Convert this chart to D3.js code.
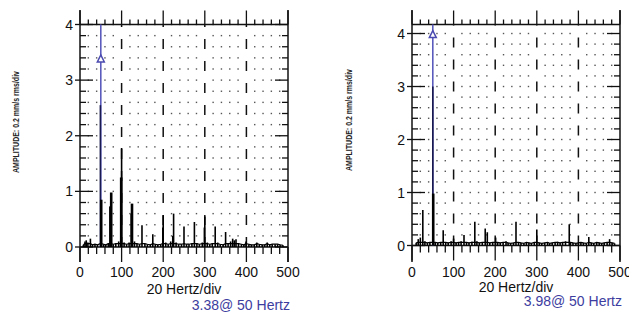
<!DOCTYPE html>
<html>
<head>
<meta charset="utf-8">
<script src="https://cdn.jsdelivr.net/npm/d3@7"></script>
<style>
  body { margin: 0; background: #fff; }
  svg { display: block; font-family: "Liberation Sans", Arial, sans-serif; }
</style>
</head>
<body>
<svg id="chart" width="629" height="320"></svg>
<script>
// left spectrum (Hz, amplitude)
const leftFreq = [8, 12, 15, 19, 25, 30, 36, 42, 49, 51, 57, 62, 68, 73, 75, 80, 86, 93, 99, 100, 106, 112, 118, 123, 125, 131, 137, 143, 149, 156, 162, 169, 175, 181, 187, 194, 199, 200, 206, 212, 218, 223, 225, 231, 237, 244, 250, 256, 262, 269, 275, 281, 287, 294, 299, 300, 306, 312, 318, 325, 331, 337, 344, 350, 356, 362, 367, 371, 375, 381, 388, 394, 399, 406, 412, 419, 425, 431, 438, 444, 450, 456, 462, 469, 475, 481, 488];
const leftAmp = [0.04, 0.1, 0.12, 0.08, 0.15, 0.04, 0.05, 0.04, 2.55, 0.85, 0.05, 0.04, 0.06, 0.73, 0.98, 0.05, 0.06, 0.1, 1.25, 1.78, 0.08, 0.05, 0.08, 0.6, 0.78, 0.1, 0.06, 0.05, 0.39, 0.06, 0.05, 0.04, 0.23, 0.05, 0.04, 0.05, 0.35, 0.57, 0.08, 0.05, 0.1, 0.2, 0.6, 0.08, 0.05, 0.05, 0.37, 0.05, 0.05, 0.06, 0.45, 0.07, 0.05, 0.08, 0.35, 0.55, 0.08, 0.05, 0.06, 0.37, 0.08, 0.05, 0.04, 0.27, 0.06, 0.1, 0.15, 0.12, 0.14, 0.06, 0.05, 0.04, 0.1, 0.05, 0.04, 0.04, 0.08, 0.05, 0.04, 0.04, 0.08, 0.04, 0.05, 0.05, 0.05, 0.04, 0.03];

// right spectrum (Hz, amplitude)
const rightFreq = [10, 15, 20, 26, 31, 37, 43, 50, 51, 56, 62, 69, 75, 81, 87, 94, 100, 106, 112, 118, 125, 131, 137, 144, 151, 156, 162, 169, 176, 181, 187, 194, 201, 206, 212, 219, 226, 231, 237, 244, 250, 256, 262, 269, 275, 281, 287, 294, 300, 306, 312, 319, 326, 331, 337, 344, 350, 356, 362, 369, 378, 381, 387, 394, 400, 406, 412, 419, 425, 431, 437, 444, 450, 456, 462, 469, 475, 481, 487];
const rightAmp = [0.05, 0.12, 0.15, 0.67, 0.08, 0.05, 0.06, 3.0, 0.98, 0.06, 0.05, 0.06, 0.29, 0.06, 0.05, 0.08, 0.13, 0.05, 0.06, 0.08, 0.2, 0.06, 0.05, 0.07, 0.45, 0.08, 0.05, 0.06, 0.32, 0.25, 0.05, 0.06, 0.15, 0.06, 0.05, 0.06, 0.08, 0.05, 0.04, 0.05, 0.45, 0.06, 0.05, 0.04, 0.06, 0.05, 0.04, 0.06, 0.3, 0.05, 0.04, 0.05, 0.06, 0.04, 0.05, 0.06, 0.07, 0.05, 0.06, 0.08, 0.4, 0.06, 0.05, 0.04, 0.05, 0.06, 0.05, 0.04, 0.16, 0.05, 0.04, 0.06, 0.05, 0.04, 0.05, 0.06, 0.12, 0.05, 0.04];

const xTicks = [0, 100, 200, 300, 400, 500];
const yTicks = [0, 1, 2, 3, 4];
const xTitle = "20 Hertz/div";
const yTitle = "AMPLITUDE: 0.2 mm/s rms/div";
const cursorHz = [50, 50];
const cursorVal = [3.38, 3.98];
const cursorText = ["3.38@ 50 Hertz", "3.98@ 50 Hertz"];

const svg = d3.select("#chart");

const panels = [
  { freq: leftFreq, amp: leftAmp, x0: 80, x1: 288, y0: 247, yTop: 24.5, yMax: 4, titleX: 15.5, titleY: 122, xTitleY: 294, blueY: 310, i: 0 },
  { freq: rightFreq, amp: rightAmp, x0: 412, x1: 620, y0: 245.5, yTop: 24.5, yMax: 4.17, titleX: 348, titleY: 120, xTitleY: 292, blueY: 306, i: 1 }
];

panels.forEach(p => {
  const x = d3.scaleLinear().domain([0, 500]).range([p.x0, p.x1]);
  const y = d3.scaleLinear().domain([0, p.yMax]).range([p.y0, p.yTop]);
  const g = svg.append("g");

  const minorX = d3.range(0, 501, 20);
  const minorY = d3.range(0, p.yMax + 0.001, 0.2).map(v => +v.toFixed(1));

  // dotted grid
  const dots = [];
  minorX.forEach(fx => {
    if (fx % 100 === 0) return;
    minorY.forEach(vy => {
      if (vy === 0) return;
      dots.push([fx, vy]);
    });
  });
  g.selectAll(".dot").data(dots).enter().append("rect")
    .attr("x", d => x(d[0]) - 0.7)
    .attr("y", d => y(d[1]) - 0.7)
    .attr("width", 1.4).attr("height", 1.4)
    .attr("fill", "#555");

  // dashed verticals at major x
  g.selectAll(".dash").data(xTicks.slice(1, -1)).enter().append("line")
    .attr("x1", d => x(d)).attr("x2", d => x(d))
    .attr("y1", p.y0).attr("y2", p.yTop)
    .attr("stroke", "#111").attr("stroke-width", 1.5)
    .attr("stroke-dasharray", "10,12");

  // frame lines
  g.append("line").attr("x1", p.x0).attr("x2", p.x1).attr("y1", p.yTop).attr("y2", p.yTop)
    .attr("stroke", "#111").attr("stroke-width", 1.5);
  g.append("line").attr("x1", p.x0).attr("x2", p.x1).attr("y1", p.y0).attr("y2", p.y0)
    .attr("stroke", "#111").attr("stroke-width", 1.5);
  g.append("line").attr("x1", p.x0).attr("x2", p.x0).attr("y1", 10).attr("y2", 262)
    .attr("stroke", "#111").attr("stroke-width", 1.5);
  g.append("line").attr("x1", p.x1).attr("x2", p.x1).attr("y1", 10).attr("y2", 262)
    .attr("stroke", "#111").attr("stroke-width", 1.5);

  // x ticks top and bottom
  minorX.forEach(fx => {
    const major = fx % 100 === 0;
    g.append("line").attr("x1", x(fx)).attr("x2", x(fx))
      .attr("y1", p.yTop).attr("y2", p.yTop - (major ? 14 : 5))
      .attr("stroke", "#111").attr("stroke-width", 1.3);
    g.append("line").attr("x1", x(fx)).attr("x2", x(fx))
      .attr("y1", p.y0).attr("y2", p.y0 + (major ? 15 : 7))
      .attr("stroke", "#111").attr("stroke-width", 1.3);
  });

  // y ticks left and right
  minorY.forEach(vy => {
    const major = Math.abs(vy - Math.round(vy)) < 1e-6;
    g.append("line").attr("x1", p.x0 - (major ? 5 : 0)).attr("x2", p.x0 + (major ? 13 : 6))
      .attr("y1", y(vy)).attr("y2", y(vy))
      .attr("stroke", "#111").attr("stroke-width", 1.3);
    g.append("line").attr("x1", p.x1 - (major ? 13 : 6)).attr("x2", p.x1)
      .attr("y1", y(vy)).attr("y2", y(vy))
      .attr("stroke", "#111").attr("stroke-width", 1.3);
  });

  // tick labels
  g.selectAll(".xl").data(xTicks).enter().append("text")
    .attr("x", d => x(d)).attr("y", 277)
    .attr("text-anchor", "middle").attr("font-size", 14).attr("fill", "#111")
    .text(d => d);
  g.selectAll(".yl").data(yTicks).enter().append("text")
    .attr("x", p.x0 - 7).attr("y", d => y(d) + 5)
    .attr("text-anchor", "end").attr("font-size", 14).attr("fill", "#111")
    .text(d => d);

  // titles
  g.append("text").attr("x", (p.x0 + p.x1) / 2).attr("y", p.xTitleY)
    .attr("text-anchor", "middle").attr("font-size", 14).attr("fill", "#111")
    .text(xTitle);
  g.append("text")
    .attr("transform", `translate(${p.titleX + 3.5},${p.titleY}) rotate(-90)`)
    .attr("text-anchor", "middle").attr("font-size", 9).attr("font-weight", "bold")
    .attr("fill", "#222").attr("textLength", 102).attr("lengthAdjust", "spacingAndGlyphs")
    .text(yTitle);

  // cursor line (under the spectrum)
  const cx = x(cursorHz[p.i]);
  g.append("line").attr("x1", cx).attr("x2", cx).attr("y1", p.y0).attr("y2", p.yTop)
    .attr("stroke", "#5b5bbd").attr("stroke-width", 1.6);

  // spectrum lines
  g.selectAll(".spec").data(p.freq.map((f, i) => [f, p.amp[i]])).enter().append("line")
    .attr("x1", d => x(d[0])).attr("x2", d => x(d[0]))
    .attr("y1", p.y0).attr("y2", d => y(d[1]))
    .attr("stroke", d => d[1] > 2 ? "#1a1a50" : "#000")
    .attr("stroke-width", d => d[1] > 0.7 && d[1] < 1.3 ? 2.6 : 1.6);
  // noise floor
  g.append("path")
    .attr("d", d3.line().x(d => x(d[0])).y(d => y(d[1]))(p.freq.map((f, i) => [f, Math.min(p.amp[i], 0.06)])))
    .attr("fill", "none").attr("stroke", "#000").attr("stroke-width", 1.2);

  // cursor marker and readout
  const cy = y(cursorVal[p.i]);
  g.append("path")
    .attr("d", `M${cx - 3.5},${cy + 3} L${cx},${cy - 4} L${cx + 3.5},${cy + 3} Z`)
    .attr("fill", "#fff").attr("stroke", "#4a4ab0").attr("stroke-width", 1.5);
  g.append("text").attr("x", p.x1 + 2).attr("y", p.blueY)
    .attr("text-anchor", "end").attr("font-size", 14).attr("fill", "#3d3da0")
    .text(cursorText[p.i]);
});
</script>
</body>
</html>
